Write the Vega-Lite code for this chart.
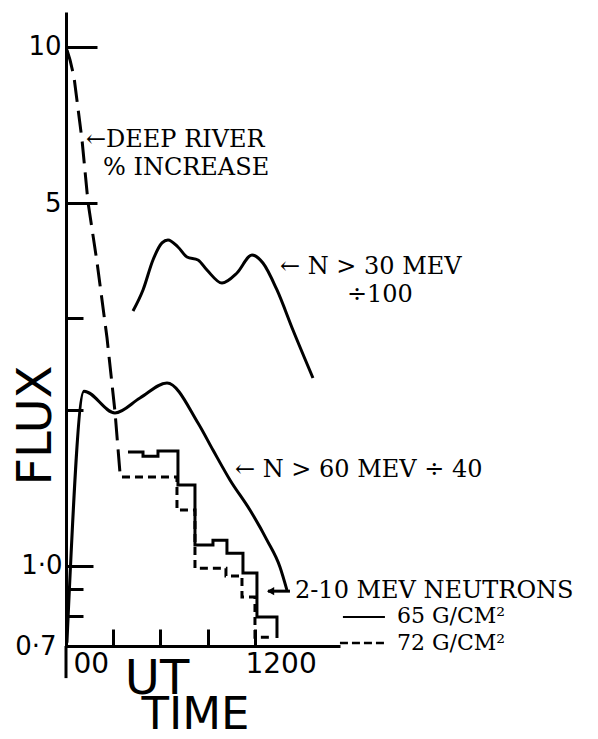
{
  "$schema": "https://vega.github.io/schema/vega-lite/v6.json",
  "autosize": {"type": "none"},
  "padding": {"left": 66, "top": 12, "right": 258, "bottom": 93},
  "width": 274,
  "height": 634,
  "background": "white",
  "config": {"view": {"stroke": null}},
  "datasets": {
    "curves": [
      {"s": "n60", "t": 8.02, "v": 0.71},
      {"s": "n60", "t": 8.381, "v": 2.17},
      {"s": "n60", "t": 9.037, "v": 1.97},
      {"s": "n60", "t": 9.566, "v": 2.105},
      {"s": "n60", "t": 10.138, "v": 2.25},
      {"s": "n60", "t": 10.794, "v": 1.884},
      {"s": "n60", "t": 11.111, "v": 1.671},
      {"s": "n60", "t": 11.471, "v": 1.463},
      {"s": "n60", "t": 11.894, "v": 1.28},
      {"s": "n60", "t": 12.254, "v": 1.12},
      {"s": "n60", "t": 12.529, "v": 0.994},
      {"s": "n60", "t": 12.677, "v": 0.897},
      {"s": "n30", "t": 9.418, "v": 3.097},
      {"s": "n30", "t": 9.63, "v": 3.4},
      {"s": "n30", "t": 9.841, "v": 3.885},
      {"s": "n30", "t": 10.032, "v": 4.19},
      {"s": "n30", "t": 10.159, "v": 4.245},
      {"s": "n30", "t": 10.37, "v": 4.115},
      {"s": "n30", "t": 10.561, "v": 3.937},
      {"s": "n30", "t": 10.794, "v": 3.885},
      {"s": "n30", "t": 10.984, "v": 3.715},
      {"s": "n30", "t": 11.302, "v": 3.506},
      {"s": "n30", "t": 11.619, "v": 3.666},
      {"s": "n30", "t": 11.937, "v": 3.972},
      {"s": "n30", "t": 12.169, "v": 3.833},
      {"s": "n30", "t": 12.466, "v": 3.4},
      {"s": "n30", "t": 12.804, "v": 2.846},
      {"s": "n30", "t": 13.228, "v": 2.3}
    ],
    "deep": [
      {"t": 8.021, "v": 9.87},
      {"t": 8.085, "v": 9.44},
      {"t": 8.169, "v": 8.755},
      {"t": 8.339, "v": 6.62},
      {"t": 8.466, "v": 5.02},
      {"t": 8.656, "v": 3.85},
      {"t": 8.868, "v": 2.75},
      {"t": 9.037, "v": 1.98},
      {"t": 9.143, "v": 1.509}
    ],
    "g65": [
      {"t": 9.312, "v": 1.656},
      {"t": 9.63, "v": 1.626},
      {"t": 9.947, "v": 1.663},
      {"t": 10.37, "v": 1.43},
      {"t": 10.73, "v": 1.096},
      {"t": 11.111, "v": 1.12},
      {"t": 11.407, "v": 1.057},
      {"t": 11.746, "v": 0.968},
      {"t": 12.042, "v": 0.796},
      {"t": 12.466, "v": 0.725}
    ],
    "g72": [
      {"t": 9.185, "v": 1.482},
      {"t": 10.349, "v": 1.28},
      {"t": 10.73, "v": 0.989},
      {"t": 11.386, "v": 0.955},
      {"t": 11.725, "v": 0.87},
      {"t": 12.0, "v": 0.728},
      {"t": 12.36, "v": 0.728}
    ],
    "notes": [
      {"t": 8.423, "v": 6.62, "label": "←DEEP RIVER"},
      {"t": 8.783, "v": 5.848, "label": "% INCREASE"},
      {"t": 12.529, "v": 3.765, "label": "← N > 30 MEV"},
      {"t": 13.947, "v": 3.325, "label": "÷100"},
      {"t": 11.577, "v": 1.529, "label": "← N > 60 MEV ÷ 40"},
      {"t": 12.847, "v": 0.893, "label": "2-10 MEV NEUTRONS"}
    ],
    "keys": [
      {"t": 15.005, "v": 0.8, "label": "65 G/CM²"},
      {"t": 15.005, "v": 0.71, "label": "72 G/CM²"}
    ]
  },
  "encoding": {
    "x": {
      "field": "t",
      "type": "quantitative",
      "scale": {"domain": [8, 13.8], "nice": false, "zero": false},
      "axis": {
        "values": [8, 9, 10, 11, 12],
        "labelExpr": "datum.value == 8 ? '00' : datum.value == 12 ? '1200' : ''",
        "grid": false,
        "domainColor": "black",
        "domainWidth": 3,
        "tickColor": "black",
        "tickWidth": 3,
        "tickSize": {"condition": {"test": "datum.value == 8", "value": 0}, "value": -17},
        "labelFont": "DejaVu Sans",
        "labelFontSize": 28,
        "labelColor": "black",
        "labelAlign": "left",
        "labelBaseline": "top",
        "labelOffset": {"condition": {"test": "datum.value == 8", "value": 7}, "value": -10},
        "labelPadding": {"condition": {"test": "datum.value == 8", "value": 4}, "value": 21},
        "labelFlush": false,
        "title": "TIME",
        "titleFont": "DejaVu Sans",
        "titleFontSize": 45,
        "titleFontWeight": "normal",
        "titleColor": "black",
        "titleAlign": "center",
        "titleBaseline": "alphabetic",
        "titleX": 129,
        "titleY": 82
      }
    },
    "y": {
      "field": "v",
      "type": "quantitative",
      "scale": {"type": "log", "domain": [0.7, 11.68], "nice": false},
      "axis": {
        "values": [0.7, 0.8, 0.9, 1, 2, 3, 5, 10],
        "labelExpr": "datum.value == 10 ? '10' : datum.value == 5 ? '5' : datum.value == 1 ? '1·0' : datum.value == 0.7 ? '0·7' : ''",
        "grid": false,
        "domainColor": "black",
        "domainWidth": 3,
        "tickColor": "black",
        "tickWidth": 3,
        "tickSize": {"condition": [{"test": "datum.value == 10 || datum.value == 5", "value": -31}, {"test": "datum.value == 1", "value": -27}], "value": -17},
        "labelPadding": {"condition": [{"test": "datum.value == 10 || datum.value == 5", "value": 36}, {"test": "datum.value == 1", "value": 31}], "value": 27},
        "labelFont": "DejaVu Sans",
        "labelFontSize": 26,
        "labelColor": "black",
        "labelBaseline": "middle",
        "title": "FLUX",
        "titleFont": "DejaVu Sans",
        "titleFontSize": 48,
        "titleFontWeight": "normal",
        "titleColor": "black",
        "titleAngle": -90,
        "titleAlign": "center",
        "titleBaseline": "alphabetic",
        "titleX": -16,
        "titleY": 413
      }
    }
  },
  "layer": [
    {
      "data": {"name": "curves"},
      "mark": {"type": "line", "interpolate": "monotone", "strokeWidth": 3, "color": "black"},
      "encoding": {"detail": {"field": "s"}}
    },
    {
      "data": {"name": "deep"},
      "mark": {"type": "line", "interpolate": "linear", "strokeWidth": 3, "color": "black", "strokeDash": [22, 9]},
      "encoding": {}
    },
    {
      "data": {"name": "g65"},
      "mark": {"type": "line", "interpolate": "step-after", "strokeWidth": 3, "color": "black"},
      "encoding": {}
    },
    {
      "data": {"name": "g72"},
      "mark": {"type": "line", "interpolate": "step-after", "strokeWidth": 3, "color": "black", "strokeDash": [8, 5]},
      "encoding": {}
    },
    {
      "data": {"values": [{"t": 12.275, "t2": 12.741, "v": 0.893}]},
      "mark": {"type": "rule", "strokeWidth": 3, "color": "black"},
      "encoding": {"x2": {"field": "t2"}}
    },
    {
      "data": {"values": [{"t": 12.33, "v": 0.893}]},
      "mark": {"type": "point", "shape": "triangle-left", "filled": true, "size": 70, "color": "black", "opacity": 1},
      "encoding": {}
    },
    {
      "data": {"values": [{"t": 13.862, "t2": 14.751, "v": 0.796}]},
      "mark": {"type": "rule", "strokeWidth": 2, "color": "black"},
      "encoding": {"x2": {"field": "t2"}}
    },
    {
      "data": {"values": [{"t": 13.799, "t2": 14.751, "v": 0.709}]},
      "mark": {"type": "rule", "strokeWidth": 2.5, "color": "black", "strokeDash": [8, 4]},
      "encoding": {"x2": {"field": "t2"}}
    },
    {
      "data": {"values": [{"t": 8, "v": 0.7, "v2": 0.607}]},
      "mark": {"type": "rule", "strokeWidth": 3, "color": "black"},
      "encoding": {"y2": {"field": "v2"}}
    },
    {
      "data": {"name": "notes"},
      "mark": {"type": "text", "align": "left", "baseline": "middle", "font": "DejaVu Serif", "fontSize": 24, "color": "black"},
      "encoding": {"text": {"field": "label"}}
    },
    {
      "data": {"name": "keys"},
      "mark": {"type": "text", "align": "left", "baseline": "middle", "font": "DejaVu Serif", "fontSize": 22, "color": "black"},
      "encoding": {"text": {"field": "label"}}
    },
    {
      "data": {"values": [{"t": 9.926, "v": 0.5653, "label": "UT"}]},
      "mark": {"type": "text", "align": "center", "baseline": "alphabetic", "font": "DejaVu Sans", "fontSize": 48, "color": "black"},
      "encoding": {"text": {"field": "label"}}
    }
  ]
}
